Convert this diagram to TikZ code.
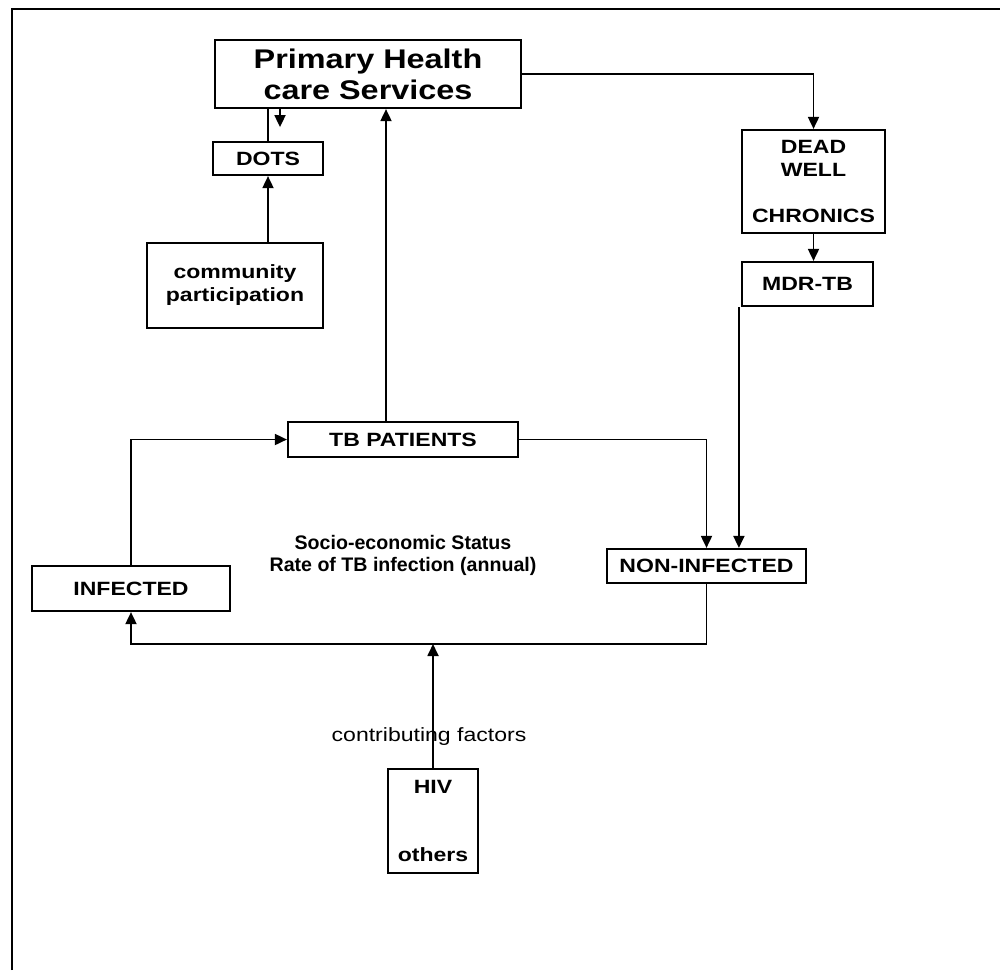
\documentclass[tikz,border=0pt]{standalone}
\usepackage{fontspec}
\setmainfont{Liberation Sans}[FakeStretch=1.2]
\newfontfamily\plainsans{Liberation Sans}
\usetikzlibrary{arrows.meta}

\begin{document}
\begin{tikzpicture}[x=0.5pt,y=-0.5pt,
    box/.style={draw,line width=1.1pt,inner sep=0pt,align=center,
      font=\bfseries\fontsize{9.6}{11.5}\selectfont},
    arr/.style={line width=0.9pt,-{Triangle[length=6pt,width=5.5pt]}}]
  \useasboundingbox (0,0) rectangle (1000,970);
  \draw[line width=1.2pt] (12,970) -- (12,9) -- (1000,9);

  \node[box,minimum width=153pt,minimum height=34pt,font=\bfseries\fontsize{13.5}{15.5}\selectfont] (phs) at (368,74) {Primary Health\\care Services};
  \node[box,minimum width=55pt,minimum height=16.5pt] (dots) at (268,158.5) {DOTS};
  \node[box,minimum width=88pt,minimum height=42.5pt] (comm) at (235,285.5) {community\\participation};
  \node[box,minimum width=71.5pt,minimum height=51.5pt] (dead) at (813.5,181.5) {DEAD\\WELL\\[11.5pt]CHRONICS};
  \node[box,minimum width=65.5pt,minimum height=22pt] (mdr) at (807.5,284) {MDR-TB};
  \node[box,minimum width=115pt,minimum height=17.5pt] (tbp) at (403,439.5) {TB PATIENTS};
  \node[box,minimum width=99pt,minimum height=22.5pt] (inf) at (131,588.5) {INFECTED};
  \node[box,minimum width=99.5pt,minimum height=17pt] (noninf) at (706.5,566) {NON-INFECTED};
  \node[box,minimum width=45pt,minimum height=52pt] (hiv) at (433,821) {HIV\\[22.5pt]others};
  \node[font=\plainsans\bfseries\fontsize{9.8}{11}\selectfont,align=center] (ses) at (403,555) {Socio-economic Status\\Rate of TB infection (annual)};
  \node[font=\fontsize{9.6}{11.5}\selectfont] (cf) at (429,737) {contributing factors};

  \coordinate (jn) at (433,644);

  \draw[line width=0.9pt] (phs.south -| dots.north) -- (dots.north);
  \draw[arr] ([xshift=6pt]phs.south -| dots.north) -- ++(0,18);
  \draw[arr] (comm.north -| dots.south) -- (dots.south);
  \draw[arr] ([xshift=-8.5pt]tbp.north) -- ([xshift=-8.5pt]tbp.north |- phs.south);
  \draw[arr] (phs.east) -| (dead.north);
  \draw[arr] (dead.south) -- (dead.south |- mdr.north);
  \draw[arr] ([xshift=-1pt]mdr.south west) -- ([xshift=-1pt]mdr.south west |- noninf.north);
  \draw[arr] (tbp.east) -| (noninf.north);
  \draw[arr] (noninf.south) |- (jn) -| (inf.south);
  \draw[arr] (hiv.north) -- (jn);
  \draw[arr] (inf.north) |- (tbp.west);
\end{tikzpicture}
\end{document}
